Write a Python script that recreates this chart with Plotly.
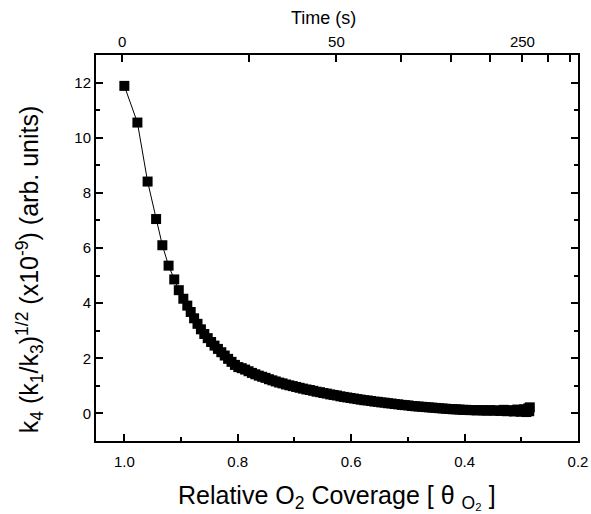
import plotly.graph_objects as go

# Relative O2 coverage (bottom axis) and k4 (k1/k3)^1/2 values (x1e-9)
coverage = [1.000, 0.977, 0.959, 0.944, 0.933, 0.922, 0.912, 0.904, 0.896, 0.889,
            0.883, 0.877, 0.871, 0.865, 0.859, 0.853, 0.847, 0.841, 0.835, 0.829,
            0.823, 0.817, 0.811, 0.805, 0.799, 0.793, 0.787, 0.781, 0.775, 0.769,
            0.763, 0.757, 0.751, 0.745, 0.739, 0.733, 0.727, 0.721, 0.715, 0.709,
            0.703, 0.697, 0.691, 0.685, 0.679, 0.673, 0.667, 0.661, 0.655, 0.649,
            0.643, 0.637, 0.631, 0.625, 0.619, 0.613, 0.607, 0.601, 0.595, 0.589,
            0.583, 0.577, 0.571, 0.565, 0.559, 0.553, 0.547, 0.541, 0.535, 0.529,
            0.523, 0.517, 0.511, 0.505, 0.499, 0.493, 0.487, 0.481, 0.475, 0.469,
            0.463, 0.457, 0.451, 0.445, 0.439, 0.433, 0.427, 0.421, 0.415, 0.409,
            0.403, 0.397, 0.391, 0.385, 0.379, 0.373, 0.367, 0.361, 0.355, 0.349,
            0.343, 0.337, 0.331, 0.325, 0.319, 0.313, 0.307, 0.301, 0.295, 0.291,
            0.288, 0.286, 0.285]
rate = [11.88, 10.55, 8.41, 7.05, 6.10, 5.36, 4.86, 4.47, 4.16, 3.91,
        3.68, 3.45, 3.25, 3.05, 2.88, 2.73, 2.59, 2.46, 2.34, 2.22,
        2.10, 1.98, 1.87, 1.76, 1.68, 1.64, 1.59, 1.53, 1.47, 1.42,
        1.37, 1.33, 1.29, 1.24, 1.20, 1.16, 1.12, 1.09, 1.05, 1.02,
        0.99, 0.96, 0.93, 0.90, 0.87, 0.85, 0.82, 0.79, 0.77, 0.74,
        0.72, 0.69, 0.67, 0.65, 0.62, 0.60, 0.58, 0.56, 0.54, 0.52,
        0.50, 0.48, 0.47, 0.45, 0.43, 0.42, 0.40, 0.39, 0.37, 0.36,
        0.34, 0.33, 0.31, 0.30, 0.29, 0.27, 0.26, 0.25, 0.24, 0.23,
        0.22, 0.21, 0.20, 0.19, 0.18, 0.17, 0.16, 0.15, 0.15, 0.14,
        0.13, 0.13, 0.12, 0.12, 0.11, 0.12, 0.11, 0.10, 0.12, 0.10,
        0.11, 0.09, 0.13, 0.08, 0.12, 0.07, 0.14, 0.06, 0.15, 0.05,
        0.18, 0.08, 0.22]

# Top (time) axis: labelled tick positions (in coverage units) and labels,
# plus the unlabelled time ticks
time_tick_cov = [1.004, 0.626, 0.298]
time_tick_labels = ["0", "50", "250"]
time_minor_cov = [0.781, 0.512, 0.424, 0.355, 0.253, 0.214]

FONT = "Arial, Liberation Sans, sans-serif"

fig = go.Figure()
fig.add_trace(go.Scatter(
    x=coverage, y=rate, mode="lines+markers",
    line=dict(color="black", width=1),
    marker=dict(symbol="square", size=10, color="black"),
    showlegend=False, hoverinfo="skip"))
# invisible trace to activate the top axis
fig.add_trace(go.Scatter(x=[coverage[0]], y=[rate[0]], xaxis="x2", mode="markers",
                         marker=dict(opacity=0), showlegend=False, hoverinfo="skip"))

axis_common = dict(showline=True, linecolor="black", linewidth=2, ticks="inside",
                   tickcolor="black", tickwidth=1.5, ticklen=7, showgrid=False,
                   zeroline=False, automargin=False,
                   tickfont=dict(family=FONT, size=15, color="black"))

fig.update_layout(
    template="none",
    width=591, height=514,
    margin=dict(l=96, r=13, t=55, b=73),
    plot_bgcolor="white", paper_bgcolor="white",
    xaxis=dict(range=[1.05, 0.2], tickvals=[1.0, 0.8, 0.6, 0.4, 0.2],
               ticktext=["1.0", "0.8", "0.6", "0.4", "0.2"],
               minor=dict(tickvals=[0.9, 0.7, 0.5, 0.3], ticks="inside", ticklen=4,
                          tickcolor="black", tickwidth=1.5),
               ticklabelstandoff=6,
               **axis_common),
    xaxis2=dict(range=[1.05, 0.2], overlaying="x", side="top", anchor="y",
                tickvals=time_tick_cov, ticktext=time_tick_labels,
                minor=dict(tickvals=time_minor_cov, ticks="inside", ticklen=7,
                           tickcolor="black", tickwidth=1.5),
                **axis_common),
    yaxis=dict(range=[-1, 13], tickvals=[0, 2, 4, 6, 8, 10, 12], mirror="ticks",
               minor=dict(tickvals=[1, 3, 5, 7, 9, 11], ticks="inside", ticklen=4,
                          tickcolor="black", tickwidth=1.5),
               **axis_common),
    annotations=[
        dict(text="Relative O<sub>2</sub> Coverage [ θ <sub>O₂</sub> ]",
             xref="paper", yref="paper", x=0.5, y=-0.098, yanchor="top",
             showarrow=False, font=dict(family=FONT, size=25, color="black")),
        dict(text="k<sub>4</sub> (k<sub>1</sub>/k<sub>3</sub>)<sup>1/2</sup> (x10<sup>-9</sup>) (arb. units)",
             xref="paper", yref="paper", x=-0.137, y=0.445, textangle=-90,
             xanchor="center", yanchor="middle",
             showarrow=False, font=dict(family=FONT, size=25, color="black")),
        dict(text="Time (s)", xref="paper", yref="paper", x=0.472, y=1.096,
             xanchor="center", yanchor="middle",
             showarrow=False, font=dict(family=FONT, size=18, color="black")),
    ],
)

fig.write_html("out.html")
